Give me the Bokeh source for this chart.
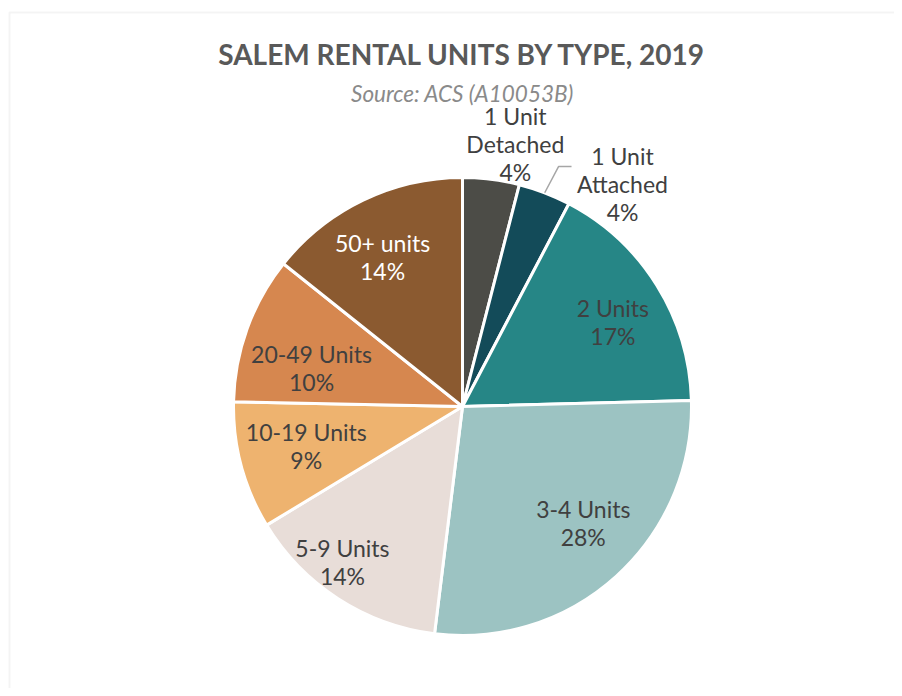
import math
from bokeh.plotting import figure
from bokeh.models import Range1d, ColumnDataSource, Label, BoxAnnotation
from bokeh.core.properties import value
from bokeh.embed import file_html
from bokeh.resources import INLINE

# ---- data ----
categories = ["1 Unit Detached", "1 Unit Attached", "2 Units", "3-4 Units",
              "5-9 Units", "10-19 Units", "20-49 Units", "50+ units"]
label_texts = ["1 Unit\nDetached\n4%", "1 Unit\nAttached\n4%", "2 Units\n17%",
               "3-4 Units\n28%", "5-9 Units\n14%", "10-19 Units\n9%",
               "20-49 Units\n10%", "50+ units\n14%"]
shares = [4.0, 3.7, 16.9, 27.4, 14.4, 9.0, 10.4, 14.3]

# ---- styles / layout ----
colors = ["#4c4c47", "#134b59", "#268686", "#9cc3c2",
          "#e8ddd8", "#eeb36f", "#d6874f", "#8b5a30"]
text_colors = ["#404040"] * 7 + ["#ffffff"]
label_dist = [265, 272, 171, 170, 199, 162, 155, 167]      # px from centre
label_shift = [4.3, 15.0, 3.5, -3.0, 4.2, -0.3, -6.8, -2.9]  # degrees

W, H = 894, 688
CX, CY, R = 462, H - 406, 229

total = sum(shares)
starts, ends, mids = [], [], []
cum = 0.0
for s in shares:
    f0 = cum / total
    cum += s
    f1 = cum / total
    starts.append(math.pi / 2 - 2 * math.pi * f0)
    ends.append(math.pi / 2 - 2 * math.pi * f1)
    mids.append((f0 + f1) / 2 * 360.0)

lx, ly = [], []
for m, d, sh in zip(mids, label_dist, label_shift):
    a = math.radians(m + sh)
    lx.append(CX + d * math.sin(a))
    ly.append(CY + d * math.cos(a) + 3)

src = ColumnDataSource(dict(cat=categories, start=starts, end=ends, color=colors,
                            label=label_texts, lx=lx, ly=ly, tc=text_colors))

p = figure(width=W, height=H, output_backend="svg", toolbar_location=None,
           x_range=Range1d(0, W), y_range=Range1d(0, H), min_border=0)
p.axis.visible = False
p.grid.visible = False
p.outline_line_color = None
p.background_fill_color = "white"
p.border_fill_color = "white"

# chart border (cropped at right / bottom)
p.add_layout(BoxAnnotation(left=9, right=W + 50, top=H - 12, bottom=-50,
                           fill_alpha=0, line_color="#d9d9d9", line_width=2))

p.wedge(x=CX, y=CY, radius=R, start_angle="start", end_angle="end",
        direction="clock", fill_color="color", line_color="white",
        line_width=3, source=src)

# leader line for "1 Unit Attached"
a = math.radians(mids[1])
x0, y0 = CX + R * math.sin(a), CY + R * math.cos(a)
p.line([x0, lx[1] - 64, lx[1] - 51], [y0, ly[1] + 17, ly[1] + 17],
       line_color="#a6a6a6", line_width=1.5)

p.text(x="lx", y="ly", text="label", source=src, text_color="tc",
       text_font=value("Lato"), text_font_size="23px", text_align="center",
       text_baseline="middle", text_line_height=1.0)

p.add_layout(Label(x=CX, y=H - 53, text="SALEM RENTAL UNITS BY TYPE, 2019",
                   text_font="Lato", text_font_style="bold", text_font_size="28px",
                   text_color="#595959", text_align="center",
                   text_baseline="alphabetic"))
p.add_layout(Label(x=CX, y=H - 93, text="Source: ACS (A10053B)",
                   text_font="Lato", text_font_style="italic", text_font_size="22.5px",
                   text_color="#8a8a8a", text_align="center",
                   text_baseline="alphabetic"))

open("out.html", "w").write(file_html(p, INLINE))
